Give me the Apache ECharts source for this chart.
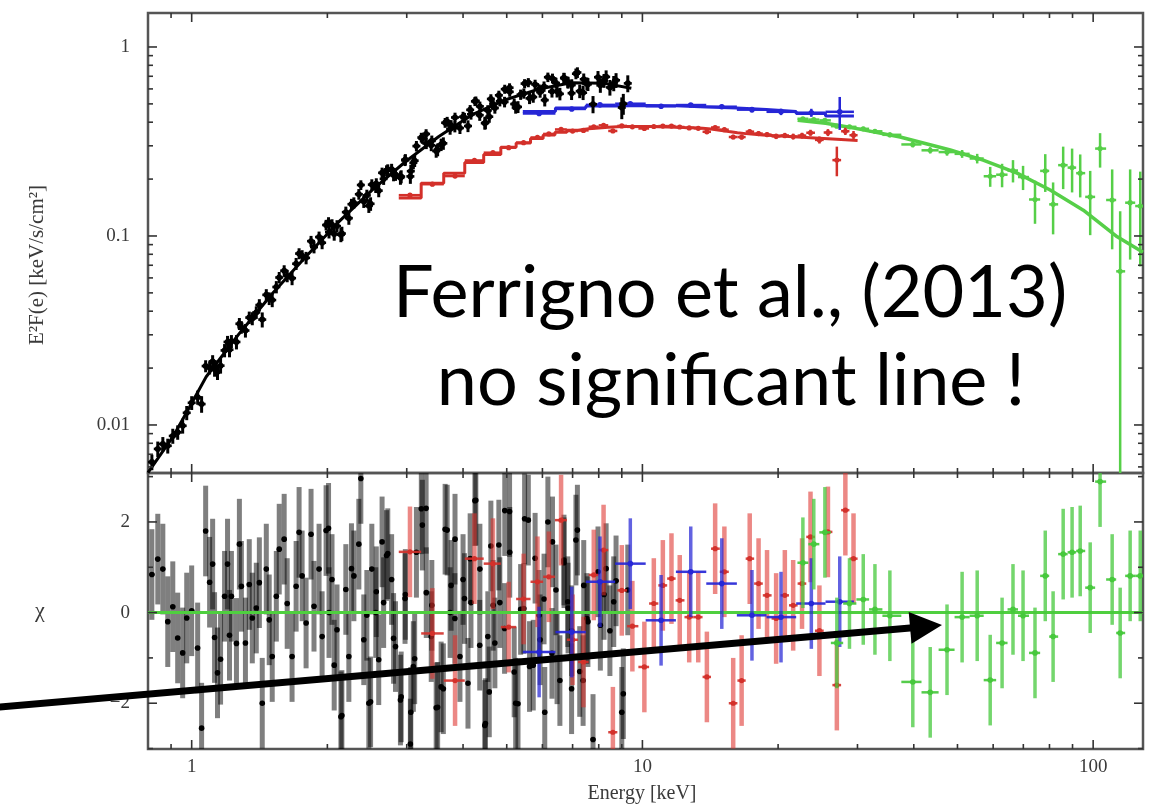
<!DOCTYPE html>
<html>
<head>
<meta charset="utf-8">
<title>Ferrigno et al. (2013) broadband spectrum</title>
<script src="https://cdn.jsdelivr.net/npm/echarts@6/dist/echarts.min.js"></script>
<style>
html,body{margin:0;padding:0;background:#ffffff;}
#chart{width:1154px;height:806px;}
</style>
</head>
<body>
<div id="chart"></div>
<script>
// ---------------- tick values ----------------
const xMajorTicks = [1, 10, 100];
const xMinorTicks = [0.9, 2, 3, 4, 5, 6, 7, 8, 9, 20, 30, 40, 50, 60, 70, 80, 90];
const topYMajorTicks = [0.01, 0.1, 1];
const topYMinorTicks = [0.006, 0.007, 0.008, 0.009, 0.02, 0.03, 0.04, 0.05, 0.06, 0.07, 0.08, 0.09, 0.2, 0.3, 0.4, 0.5, 0.6, 0.7, 0.8, 0.9];
const botYMajorTicks = [-2, 0, 2];
const botYMinorTicks = [-3, -1, 1, 3];

// ---------------- black data set (bins read across 0.8-9.3 keV) ----------------
const blackE = [0.816,0.841,0.863,0.885,0.908,0.931,0.955,0.975,
1.000,1.031,1.052,1.074,1.096,1.113,1.124,1.141,1.159,1.183,1.201,1.213,1.225,
1.257,1.276,1.289,1.316,1.342,1.363,1.391,1.413,1.434,1.464,1.486,1.509,
1.541,1.564,1.604,1.629,1.670,1.705,1.731,1.758,1.794,
1.840,1.868,1.917,1.947,1.987,2.017,2.048,2.101,
2.143,2.198,2.232,2.290,2.349,2.373,2.409,2.472,2.510,
2.561,2.600,2.666,2.706,2.777,2.833,2.905,2.979,
3.056,3.103,3.152,3.232,3.315,3.400,3.487,
3.576,3.650,3.744,3.839,3.937,4.000,4.102,4.165,
4.250,4.359,4.470,4.540,4.611,4.706,4.827,4.950,
5.077,5.234,5.368,5.478,5.618,
5.78,5.93,6.05,6.17,6.30,6.43,6.56,6.70,6.84,6.97,
7.12,7.26,7.41,7.57,7.77,7.97,8.22,8.47,8.74,9.00,9.28];
const blackF = [0.00636,0.00747,0.00793,0.00776,0.00875,0.00915,0.0099,0.0116,
0.0131,0.0140,0.0129,0.0205,0.0201,0.0217,0.0197,0.0191,0.0206,0.0248,0.0275,0.0250,0.0277,
0.0275,0.0343,0.0329,0.0316,0.0370,0.0366,0.0394,0.0431,0.0361,0.0488,0.0467,0.0458,
0.0537,0.0603,0.0655,0.0615,0.0598,0.0713,0.0807,0.0785,0.0766,
0.0939,0.0873,0.0987,0.0921,0.1143,0.1047,0.1146,0.1128,
0.1015,0.1337,0.1242,0.1499,0.1663,0.1861,0.1521,0.1444,0.1870,
0.1818,0.1737,0.2005,0.2219,0.2256,0.2115,0.2031,0.2539,
0.2067,0.2440,0.2990,0.3317,0.3088,0.3024,0.2816,
0.3044,0.3973,0.3679,0.4237,0.3726,0.4274,0.3818,0.4407,
0.5155,0.4850,0.3951,0.4615,0.5312,0.4753,0.5171,0.5983,
0.5790,0.4782,0.5600,0.6401,0.5348,
0.634,0.577,0.618,0.692,0.581,0.645,0.565,0.684,0.647,0.629,
0.722,0.584,0.675,0.635,0.498,0.692,0.664,0.611,0.667,0.478,0.642];
const blackErr = [0.0006,0.0007,0.0007,0.0007,0.0008,0.0008,0.0009,0.0010,
0.0011,0.0012,0.0013,0.0015,0.0016,0.0017,0.0017,0.0018,0.0019,0.0020,0.0021,0.0022,0.0022,
0.0024,0.0025,0.0025,0.0026,0.0028,0.0029,0.0030,0.0032,0.0033,0.0035,0.0036,0.0038,
0.0040,0.0042,0.0045,0.0046,0.0049,0.0052,0.0054,0.0056,0.0058,
0.0062,0.0064,0.0068,0.0070,0.0074,0.0077,0.0080,0.0084,
0.0088,0.0093,0.0096,0.0102,0.0108,0.0110,0.0114,0.0120,0.0125,
0.0130,0.0134,0.0142,0.0146,0.0153,0.0158,0.0165,0.0172,
0.0180,0.0185,0.0190,0.0198,0.0206,0.0214,0.0222,
0.0230,0.0238,0.0246,0.0254,0.0262,0.0266,0.0274,0.0280,
0.0286,0.0292,0.0300,0.0305,0.0310,0.0316,0.0322,0.0330,
0.0336,0.0344,0.0350,0.0356,0.0362,
0.037,0.038,0.039,0.040,0.041,0.042,0.043,0.044,0.045,0.046,
0.047,0.048,0.049,0.050,0.052,0.054,0.056,0.058,0.060,0.063,0.066];
const blackChi = [0.84,1.18,0.96,-0.2,0.13,-0.56,-0.89,-0.12,
0.04,-0.78,-2.55,1.8,0.67,1.07,-0.55,-1.33,-1.03,0.36,1.07,-0.5,0.36,
-0.68,1.51,0.58,-0.67,0.62,-0.12,0.1,0.66,-2.0,0.96,-0.16,-0.97,
0.36,1.4,1.62,0.2,-0.97,0.58,1.77,0.81,-0.23,
1.73,0.14,0.96,-0.53,1.81,0.0,0.73,-0.38,
-2.3,0.51,-0.97,0.81,1.51,2.96,-0.6,-2.0,0.96,
0.0,-1.04,0.22,1.26,0.73,-0.75,-1.93,0.4,
-2.9,-1.19,1.33,2.29,0.44,-0.53,-2.1,
-1.64,1.84,0.0,1.62,-0.97,0.73,-1.56,0.22,
2.47,0.96,-2.49,-0.53,1.47,-0.67,0.22,2.25,
1.33,-2.0,0.07,2.07,-1.19,
1.2,-0.6,0.3,2.0,-0.9,0.5,-1.5,1.1,0.1,-0.4,
1.6,-1.3,0.6,-0.2,-2.8,0.9,0.4,-0.4,0.7,-2.2,0.5];

// further black bins read in the densest part (2-9 keV)
const blackE2 = [2.012,2.071,2.154,2.262,2.447,2.494,2.568,2.645,2.723,2.805,2.916,2.974,
3.063,3.124,3.249,3.312,3.41,3.513,3.617,3.688,3.763,3.836,4.029,4.148,
4.270,4.356,4.484,4.573,4.665,4.803,4.945,5.073,5.194,5.296,5.456,5.583,5.725,
5.898,6.072,6.316,6.466,6.698,6.83,6.964,7.174,7.386,7.531,8.066,8.308,8.637,9.07];
const blackF2 = [0.1181,0.1025,0.1030,0.1473,0.1640,0.148,0.1889,0.2159,0.2249,0.2100,0.2063,0.2514,
0.2203,0.2503,0.3272,0.3466,0.3186,0.2863,0.3091,0.4028,0.3854,0.3787,0.4211,0.4649,
0.5184,0.4358,0.3975,0.4278,0.4971,0.5551,0.5120,0.6089,0.4991,0.4820,0.5680,0.6484,0.5435,
0.5968,0.5235,0.6821,0.5824,0.6866,0.6525,0.5699,0.7331,0.5728,0.6396,0.6271,0.6948,0.6429,0.5012];
const blackErr2 = [0.0076,0.0081,0.0089,0.0099,0.0117,0.0122,0.0131,0.0140,0.0145,0.0153,0.0163,0.0170,
0.0180,0.0186,0.0198,0.0206,0.0213,0.0222,0.0234,0.0240,0.0247,0.0254,0.0268,0.0278,
0.0287,0.0292,0.0301,0.0307,0.0312,0.0320,0.0330,0.0336,0.0342,0.0348,0.0354,0.0360,0.0366,
0.0375,0.0389,0.0408,0.0420,0.0438,0.0448,0.0459,0.0475,0.0490,0.0500,0.0550,0.0572,0.0596,0.0635];
const blackChi2 = [1.86,-1.16,-2.27,0.97,-0.06,-1.97,0.46,1.56,1.30,-0.57,-1.86,0.31,
-2.2,-1.02,1.93,2.30,0.16,-2.09,-1.68,1.82,0.60,-0.13,0.31,1.19,
2.48,-0.72,-2.45,-1.75,0.16,1.49,-0.35,2.23,-1.31,-2.01,0.09,2.04,-1.16,
-0.06,-2.2,1.56,-1.02,1.16,0.24,-1.68,1.82,-1.50,-0.13,-0.28,0.97,0.24,-1.79];

const blackModelE = [0.8,0.909,0.99,1.077,1.276,1.512,1.791,2.122,2.513,2.978,3.528,4.18,4.95,5.86,6.95,8.23,9.45];
const blackModelF = [0.0056,0.00867,0.0125,0.018,0.0305,0.0498,0.0777,0.119,0.175,0.247,0.335,0.437,0.524,0.597,0.647,0.642,0.605];

// ---------------- red data set ----------------
const redE = [3.05,3.42,3.84,4.24,4.66,5.05,5.45,5.85,6.2,6.6,7.0,7.4,7.8,8.2,8.6,9.0,9.5,10.1,10.6,11.1,11.6,12.1,12.7,13.3,13.9,14.5,15.2,15.9,16.6,17.3,18.1,18.9,19.8,20.7,21.6,22.6,23.6,24.7,25.8,27.0,28.2,29.4];
const redF = [0.1644,0.1879,0.2075,0.2510,0.2759,0.2932,0.3118,0.3321,0.3467,0.3662,0.3591,0.3619,0.3784,0.3850,0.3595,0.3824,0.3779,0.3706,0.3795,0.3815,0.3816,0.3772,0.3732,0.3712,0.3559,0.3750,0.3651,0.3340,0.3338,0.3563,0.3484,0.3438,0.3366,0.3402,0.3359,0.3397,0.3517,0.3224,0.3527,0.2520,0.3582,0.3414];
const redErr = [0.004,0.0045,0.005,0.005,0.0055,0.0055,0.006,0.006,0.006,0.006,0.0065,0.0065,0.0065,0.0065,0.007,0.007,0.007,0.007,0.0075,0.0075,0.0075,0.008,0.008,0.008,0.0085,0.0085,0.009,0.009,0.0095,0.0095,0.010,0.010,0.011,0.011,0.012,0.012,0.013,0.014,0.015,0.045,0.016,0.018];
const redChi = [1.34,-0.46,-1.5,1.19,1.08,-0.32,0.3,0.68,0.79,2.04,-0.6,-1.09,0.83,1.38,-2.64,0.49,-0.3,-1.2,0.2,0.6,0.75,0.27,-0.1,-0.1,-1.42,1.41,0.9,-2.0,-1.5,1.19,0.64,0.38,-0.13,0.38,0.16,0.64,1.67,-0.4,1.78,-1.6,2.26,1.19];
const redModel = [0.159,0.19,0.215,0.245,0.27,0.295,0.31,0.328,0.342,0.354,0.363,0.369,0.373,0.376,0.378,0.379,0.38,0.379,0.378,0.377,0.376,0.375,0.374,0.372,0.368,0.363,0.357,0.352,0.348,0.345,0.342,0.34,0.338,0.336,0.334,0.332,0.33,0.328,0.326,0.324,0.322,0.32];

// ---------------- blue data set ----------------
const blueE = [5.9,6.97,8.05,9.4,11.0,12.8,15.0,17.5,20.3,23.7,27.4];
const blueF = [0.445,0.470,0.494,0.501,0.486,0.493,0.483,0.466,0.454,0.449,0.454];
const blueErr = [0.012,0.011,0.011,0.010,0.010,0.012,0.013,0.015,0.018,0.022,0.09];
const blueChi = [-0.87,-0.43,0.68,1.08,-0.17,0.9,0.64,-0.06,-0.1,0.2,0.24];
const blueModel = [0.455,0.475,0.487,0.49,0.488,0.482,0.475,0.467,0.456,0.445,0.432];

// ---------------- green data set ----------------
const greenE = [22.7,24.0,25.4,27.0,28.8,30.9,32.8,35.4,39.8,43.5,47.4,51.2,55.3,59.1,62.8,66.4,69.9,74.3,78.3,81.5,85.8,89.8,93.6,98.5,103.6,110.2,114.8,120.8,127.2];
const greenF = [0.417,0.413,0.409,0.381,0.378,0.369,0.358,0.343,0.305,0.284,0.278,0.272,0.257,0.207,0.211,0.222,0.205,0.156,0.221,0.147,0.237,0.230,0.215,0.161,0.290,0.155,0.065,0.150,0.144];
const greenErr = [0.008,0.008,0.008,0.008,0.009,0.009,0.009,0.010,0.011,0.011,0.012,0.013,0.015,0.025,0.03,0.03,0.03,0.04,0.05,0.045,0.06,0.06,0.055,0.06,0.06,0.07,0.07,0.075,0.075];
const greenChi = [1.1,1.51,1.77,-0.67,0.2,0.29,0.07,-0.07,-1.53,-1.76,-0.82,-0.1,-0.07,-1.49,-0.67,0.07,-0.07,-0.89,0.81,-0.53,1.29,1.33,1.36,0.55,2.89,0.73,-0.45,0.81,0.81];
const greenModelE = [22.1,25.5,29.9,37.3,48.2,57.0,67.8,80.3,95.1,113.1,129];
const greenModelF = [0.41,0.395,0.37,0.334,0.285,0.252,0.215,0.175,0.137,0.099,0.082];

// ---------------- axis ranges ----------------
const X_MIN = 0.8, X_MAX = 129;
const TOP_Y_MIN = 0.00557, TOP_Y_MAX = 1.513;
const BOT_Y_MIN = -3.01, BOT_Y_MAX = 3.08;
const CHI_SIGMA = 1; // residuals are in units of sigma

const SERIF = "'Liberation Serif', 'DejaVu Serif', serif";
const C_BLACK = '#000000', C_RED = '#d3302a', C_BLUE = '#2626d6', C_GREEN = '#56cf48';

// ---------------- helpers ----------------
function mergeSorted(a, b) {
  const idx = [];
  a[0].forEach((e, i) => idx.push([e, 0, i]));
  b[0].forEach((e, i) => idx.push([e, 1, i]));
  idx.sort((p, q) => p[0] - q[0]);
  return a.map((arr, k) => idx.map(t => (t[1] === 0 ? a[k][t[2]] : b[k][t[2]])));
}
function binEdges(E) {
  const n = E.length, lo = [], hi = [];
  for (let i = 0; i < n; i++) {
    const l = i > 0 ? Math.sqrt(E[i - 1] * E[i]) : E[i] * Math.sqrt(E[i] / E[i + 1]);
    const h = i < n - 1 ? Math.sqrt(E[i] * E[i + 1]) : E[i] * Math.sqrt(E[i] / E[i - 1]);
    lo.push(l); hi.push(h);
  }
  return [lo, hi];
}
function dataRows(E, V, Err) {
  const [lo, hi] = binEdges(E);
  return E.map((e, i) => [e, V[i], Array.isArray(Err) ? Err[i] : Err, lo[i], hi[i]]);
}
function stepPath(E, M) {
  const [lo, hi] = binEdges(E);
  const pts = [];
  E.forEach((e, i) => { pts.push([lo[i], M[i]]); pts.push([hi[i], M[i]]); });
  return pts;
}
function pairs(E, V) { return E.map((e, i) => [e, V[i]]); }

function errBars(o) {
  return function (params, api) {
    const x = api.value(0), y = api.value(1), e = api.value(2), xl = api.value(3), xh = api.value(4);
    let lo = y - e; const hi = y + e;
    if (o.floor !== undefined && lo < o.floor) lo = o.floor;
    const c = api.coord([x, y]);
    const a = api.coord([x, lo]);
    const b = api.coord([x, hi]);
    let l = api.coord([xl, y])[0];
    let r = api.coord([xh, y])[0];
    if (o.minHalf && r - l < 2 * o.minHalf) { l = c[0] - o.minHalf; r = c[0] + o.minHalf; }
    return {
      type: 'group',
      children: [
        { type: 'line', shape: { x1: c[0], y1: a[1], x2: c[0], y2: b[1] }, style: { stroke: o.bar, lineWidth: o.vw } },
        { type: 'line', shape: { x1: l, y1: c[1], x2: r, y2: c[1] }, style: { stroke: o.hbar || o.bar, lineWidth: o.hw } },
        { type: 'circle', shape: { cx: c[0], cy: c[1], r: o.r }, style: { fill: o.dot } }
      ]
    };
  };
}
function errSeries(name, gi, data, o, z) {
  return {
    name: name, type: 'custom', xAxisIndex: gi, yAxisIndex: gi, data: data,
    encode: { x: 0, y: 1 }, renderItem: errBars(o), clip: true, silent: true, z: z
  };
}
function tickRenderer(xMaj, xMin, yMaj, yMin, yRef) {
  return function (params, api) {
    const cs = params.coordSys;
    const L = cs.x, R = cs.x + cs.width, T = cs.y, B = cs.y + cs.height;
    const kids = [];
    const seg = (x1, y1, x2, y2) => kids.push({ type: 'line', shape: { x1: x1, y1: y1, x2: x2, y2: y2 }, style: { stroke: '#333333', lineWidth: 1.6 } });
    const xt = (list, len) => list.forEach(v => { const px = api.coord([v, yRef])[0]; seg(px, T, px, T + len); seg(px, B, px, B - len); });
    const yt = (list, len) => list.forEach(v => { const py = api.coord([1, v])[1]; seg(L, py, L + len, py); seg(R, py, R - len, py); });
    xt(xMaj, 9); xt(xMin, 5); yt(yMaj, 9); yt(yMin, 5);
    return { type: 'group', children: kids };
  };
}
function modelLine(name, data, color, width, z) {
  return {
    name: name, type: 'line', xAxisIndex: 0, yAxisIndex: 0, data: data,
    showSymbol: false, symbol: 'none', silent: true, clip: true,
    lineStyle: { color: color, width: width }, z: z
  };
}

const [bE, bF, bErr, bChi] = mergeSorted([blackE, blackF, blackErr, blackChi], [blackE2, blackF2, blackErr2, blackChi2]);

// ---------------- chart ----------------
const chart = echarts.init(document.getElementById('chart'), null, { renderer: 'canvas' });

const axisLabelStyle = { fontFamily: SERIF, fontSize: 19, color: '#3a3a3a' };

chart.setOption({
  animation: false,
  backgroundColor: '#ffffff',
  grid: [
    { left: 148, top: 13, width: 995, height: 460, show: true, borderColor: '#555555', borderWidth: 2.5, backgroundColor: 'transparent' },
    { left: 148, top: 473, width: 995, height: 276, show: true, borderColor: '#555555', borderWidth: 2.5, backgroundColor: 'transparent' }
  ],
  xAxis: [
    { type: 'log', logBase: 10, gridIndex: 0, min: X_MIN, max: X_MAX,
      axisLine: { show: false }, axisTick: { show: false }, axisLabel: { show: false }, splitLine: { show: false } },
    { type: 'log', logBase: 10, gridIndex: 1, min: X_MIN, max: X_MAX,
      axisLine: { show: false }, axisTick: { show: false }, splitLine: { show: false },
      axisLabel: Object.assign({ show: true, margin: 9, showMinLabel: false, showMaxLabel: false }, axisLabelStyle) }
  ],
  yAxis: [
    { type: 'log', logBase: 10, gridIndex: 0, min: TOP_Y_MIN, max: TOP_Y_MAX,
      axisLine: { show: false }, axisTick: { show: false }, splitLine: { show: false },
      axisLabel: Object.assign({ show: true, margin: 18, showMinLabel: false, showMaxLabel: false }, axisLabelStyle) },
    { type: 'value', gridIndex: 1, min: BOT_Y_MIN, max: BOT_Y_MAX, splitNumber: 3,
      axisLine: { show: false }, axisTick: { show: false }, splitLine: { show: false },
      axisLabel: Object.assign({ show: true, margin: 18, showMinLabel: false, showMaxLabel: false,
        formatter: v => (v < 0 ? '\u2212' + Math.abs(v) : String(v)) }, axisLabelStyle) }
  ],
  series: [
    // ---- top panel: unfolded spectra and models ----
    modelLine('green model', pairs(greenModelE, greenModelF), C_GREEN, 3.5, 2),
    errSeries('green data', 0, dataRows(greenE, greenF, greenErr),
      { bar: C_GREEN, vw: 2.5, hw: 2.5, r: 2.6, dot: C_GREEN, floor: TOP_Y_MIN * 0.9 }, 3),
    modelLine('red model', stepPath(redE, redModel), C_RED, 3, 4),
    errSeries('red data', 0, dataRows(redE, redF, redErr),
      { bar: C_RED, vw: 2.5, hw: 2.5, r: 2.6, dot: C_RED, floor: TOP_Y_MIN * 0.9, minHalf: 4 }, 5),
    modelLine('blue model', stepPath(blueE, blueModel), C_BLUE, 3, 6),
    errSeries('blue data', 0, dataRows(blueE, blueF, blueErr),
      { bar: C_BLUE, vw: 2.5, hw: 2.5, r: 2.8, dot: C_BLUE, floor: TOP_Y_MIN * 0.9 }, 7),
    modelLine('black model', pairs(blackModelE, blackModelF), C_BLACK, 3, 8),
    errSeries('black data', 0, dataRows(bE, bF, bErr),
      { bar: C_BLACK, vw: 3, hw: 2.6, r: 3, dot: C_BLACK, floor: TOP_Y_MIN * 0.9, minHalf: 4 }, 9),
    { name: 'ticks top', type: 'custom', xAxisIndex: 0, yAxisIndex: 0, data: [[1, 0.1]], silent: true, clip: false, z: 20,
      renderItem: tickRenderer(xMajorTicks, xMinorTicks, topYMajorTicks, topYMinorTicks, 0.1) },

    // ---- bottom panel: residuals ----
    errSeries('black residuals', 1, dataRows(bE, bChi, CHI_SIGMA),
      { bar: 'rgba(0,0,0,0.5)', vw: 5, hw: 2, r: 2.8, dot: C_BLACK }, 2),
    { name: 'zero', type: 'line', xAxisIndex: 1, yAxisIndex: 1, data: [], silent: true, z: 3,
      markLine: { silent: true, symbol: ['none', 'none'], label: { show: false }, animation: false,
        lineStyle: { color: '#4fcf3f', width: 3, type: 'solid' }, data: [{ yAxis: 0 }] } },
    errSeries('red residuals', 1, dataRows(redE, redChi, CHI_SIGMA),
      { bar: 'rgba(222,50,45,0.58)', hbar: 'rgba(211,48,42,0.9)', vw: 4.5, hw: 2.5, r: 2.6, dot: C_RED }, 4),
    errSeries('blue residuals', 1, dataRows(blueE, blueChi, CHI_SIGMA),
      { bar: 'rgba(38,38,214,0.72)', hbar: 'rgba(38,38,214,0.92)', vw: 3.5, hw: 2.5, r: 2.8, dot: C_BLUE }, 5),
    errSeries('green residuals', 1, dataRows(greenE, greenChi, CHI_SIGMA),
      { bar: 'rgba(70,200,60,0.75)', hbar: 'rgba(70,200,60,0.92)', vw: 3.5, hw: 2.5, r: 2.8, dot: '#46c83c' }, 6),
    { name: 'ticks bottom', type: 'custom', xAxisIndex: 1, yAxisIndex: 1, data: [[1, 0]], silent: true, clip: false, z: 20,
      renderItem: tickRenderer(xMajorTicks, xMinorTicks, botYMajorTicks, botYMinorTicks, 0) }
  ],
  graphic: [
    { type: 'text', x: 37, y: 265, rotation: Math.PI / 2, z: 100,
      style: { text: 'E\u00b2F(e) [keV/s/cm\u00b2]', font: "21px 'Liberation Serif', serif", fill: '#3a3a3a',
        textAlign: 'center', textVerticalAlign: 'middle', align: 'center', verticalAlign: 'middle' } },
    { type: 'text', x: 40, y: 611, z: 100,
      style: { text: '\u03c7', font: "22px 'Liberation Serif', serif", fill: '#3a3a3a',
        textAlign: 'center', textVerticalAlign: 'middle', align: 'center', verticalAlign: 'middle' } },
    { type: 'text', x: 642, y: 794, z: 100,
      style: { text: 'Energy [keV]', font: "20px 'Liberation Serif', serif", fill: '#3a3a3a',
        textAlign: 'center', textVerticalAlign: 'middle', align: 'center', verticalAlign: 'middle' } },
    { type: 'text', x: 730, y: 294, z: 100,
      style: { text: 'Ferrigno et al., (2013)', font: "72px Lato, 'Open Sans', sans-serif", fill: '#000000',
        textAlign: 'center', textVerticalAlign: 'middle', align: 'center', verticalAlign: 'middle' } },
    { type: 'text', x: 731, y: 382, z: 100,
      style: { text: 'no significant line !', font: "72px Lato, 'Open Sans', sans-serif", fill: '#000000',
        textAlign: 'center', textVerticalAlign: 'middle', align: 'center', verticalAlign: 'middle' } },
    { type: 'line', z: 100, shape: { x1: -5, y1: 707.4, x2: 913, y2: 627.7 }, style: { stroke: '#000000', lineWidth: 7 } },
    { type: 'polygon', z: 100, shape: { points: [[942, 625], [908.7, 611.9], [911.5, 643.7]] }, style: { fill: '#000000' } }
  ]
});
</script>
</body>
</html>
